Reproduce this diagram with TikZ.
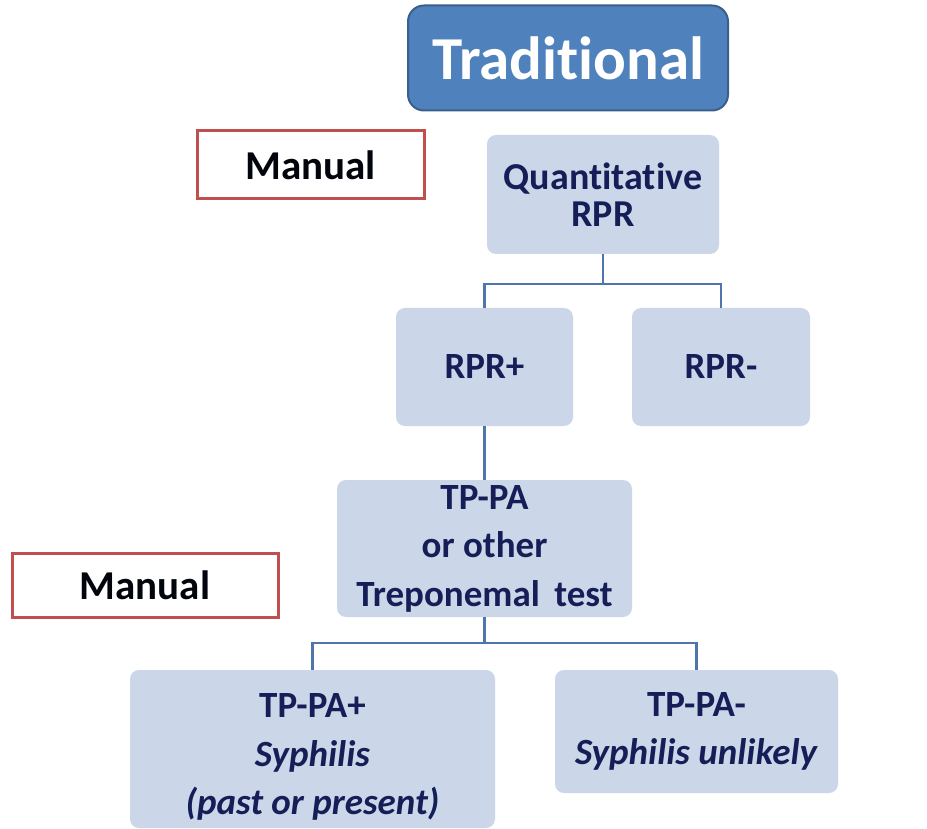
\documentclass[tikz,border=0pt]{standalone}
\usepackage{fontspec}
\setmainfont{Carlito}[Ligatures=NoCommon]
\definecolor{navy}{RGB}{22,30,88}
\definecolor{boxfill}{RGB}{203,215,232}
\definecolor{tradfill}{RGB}{79,129,189}
\definecolor{tradedge}{RGB}{58,95,140}
\definecolor{redline}{RGB}{192,80,77}
\definecolor{conn}{RGB}{79,118,172}
\begin{document}
\begin{tikzpicture}[x=1pt,y=-1pt,
  lbox/.style={fill=boxfill, rounded corners=9pt, align=center, text=navy,
    inner sep=0pt, font=\bfseries\fontsize{37}{48.5}\selectfont},
  manualbox/.style={draw=redline, line width=3pt, fill=white, inner sep=0pt,
    font=\bfseries\fontsize{41}{48}\selectfont, text=black!85!navy},
  tradbox/.style={draw=tradedge, line width=2pt, fill=tradfill, rounded corners=16pt,
    inner sep=0pt, text=white, font=\bfseries\fontsize{61}{70}\selectfont},
  link/.style={draw=conn, line width=2.2pt}]
\clip (0,0) rectangle (927,829);
\fill[white] (0,0) rectangle (927,829);

\node[tradbox, minimum width=320pt, minimum height=105pt] (trad) at (568,58) {Traditional};
\node[manualbox, minimum width=227pt, minimum height=68pt] (man1) at (310.5,165) {Manual};
\node[manualbox, minimum width=266pt, minimum height=64pt] (man2) at (145,585) {Manual};

\node[lbox, minimum width=232pt, minimum height=119pt, font=\bfseries\fontsize{38}{37}\selectfont] (q) at (603,194.5) {Quantitative\\RPR};
\node[lbox, minimum width=177pt, minimum height=118pt] (rprp) at (484.5,367) {RPR+};
\node[lbox, minimum width=178pt, minimum height=118pt] (rprm) at (721,367) {RPR-};
\node[lbox, minimum width=295pt, minimum height=137pt] (tp) at (484.5,548.5) {TP-PA\\or other\\Treponemal\ \,test};
\node[lbox, minimum width=365pt, minimum height=158pt, text depth=0pt] (tpp) at (312.5,749) {\rule{0pt}{34pt}TP-PA+\\\textit{Syphilis}\\\textit{(past or present)}};
\node[lbox, minimum width=283pt, minimum height=123pt] (tpm) at (696.5,731.5) {TP-PA-\\\textit{Syphilis unlikely}};

\draw[link] (q.south) -- ++(0,30) coordinate (qm);
\draw[link] (rprp.north) -- ++(0,-24) -| (rprm.north);
\draw[link] (rprp.south) -- (tp.north);
\draw[link] (tp.south) -- ++(0,26) coordinate (tm);
\draw[link] (tpp.north) -- ++(0,-27) -| (tpm.north);
\end{tikzpicture}
\end{document}
